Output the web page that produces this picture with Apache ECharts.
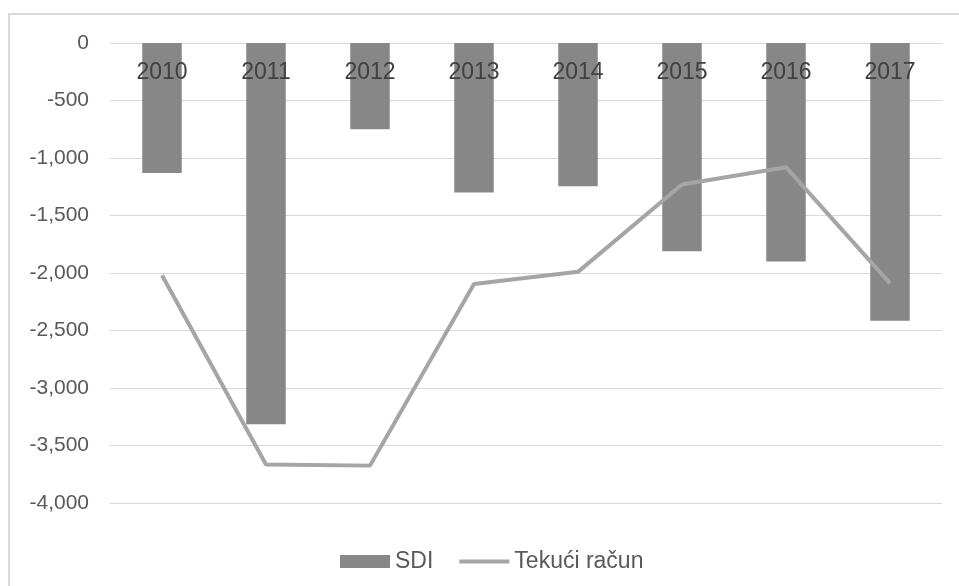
<!DOCTYPE html>
<html>
<head>
<meta charset="utf-8">
<script src="https://cdn.jsdelivr.net/npm/echarts@6/dist/echarts.min.js"></script>
<style>
  html, body { margin: 0; padding: 0; background: #fff; }
  #chart { width: 959px; height: 586px; }
</style>
</head>
<body>
<div id="chart"></div>
<script>
// Years on the category axis
const years = ['2010', '2011', '2012', '2013', '2014', '2015', '2016', '2017'];
// Foreign direct investment (SDI)
const sdi = [-1130, -3315, -750, -1300, -1245, -1810, -1900, -2415];
// Current account (Tekući račun)
const tekuciRacun = [-2020, -3665, -3675, -2095, -1990, -1230, -1080, -2090];
// Value axis range
const yMin = -4000, yMax = 0, yStep = 500;

const chart = echarts.init(document.getElementById('chart'), null, { renderer: 'canvas' });

chart.setOption({
  backgroundColor: '#ffffff',
  animation: false,
  graphic: [{
    type: 'rect',
    silent: true,
    shape: { x: 9, y: 14, width: 1000, height: 1000 },
    style: { fill: 'none', stroke: '#d9d9d9', lineWidth: 2 }
  }],
  grid: { left: 110, right: 17, top: 43, bottom: 83, containLabel: false },
  legend: {
    left: 335,
    top: 545,
    itemWidth: 50,
    itemHeight: 13,
    itemGap: 24,
    textStyle: { fontFamily: 'Liberation Sans', fontSize: 23, color: '#595959' },
    data: [
      { name: 'SDI', icon: 'rect' },
      { name: 'Tekući račun', itemStyle: { opacity: 0 }, lineStyle: { width: 4, color: '#a5a5a5' } }
    ]
  },
  xAxis: {
    type: 'category',
    position: 'top',
    data: years,
    z: 10,
    axisLine: { show: false },
    axisTick: { show: false },
    axisLabel: {
      inside: true,
      margin: 18,
      fontFamily: 'Liberation Sans',
      fontSize: 23,
      color: '#404040'
    }
  },
  yAxis: {
    type: 'value',
    min: yMin,
    max: yMax,
    interval: yStep,
    axisLine: { show: false },
    axisTick: { show: false },
    splitLine: { lineStyle: { color: '#d9d9d9', width: 1 } },
    axisLabel: {
      margin: 21,
      fontFamily: 'Liberation Sans',
      fontSize: 21,
      color: '#595959',
      formatter: v => v.toLocaleString('en-US')
    }
  },
  series: [
    {
      name: 'SDI',
      type: 'bar',
      data: sdi,
      barCategoryGap: '62%',
      itemStyle: { color: '#878787' },
      z: 1
    },
    {
      name: 'Tekući račun',
      type: 'line',
      data: tekuciRacun,
      symbol: 'none',
      lineStyle: { color: '#a5a5a5', width: 4 },
      itemStyle: { color: '#a5a5a5' },
      z: 3
    }
  ]
});
</script>
</body>
</html>
